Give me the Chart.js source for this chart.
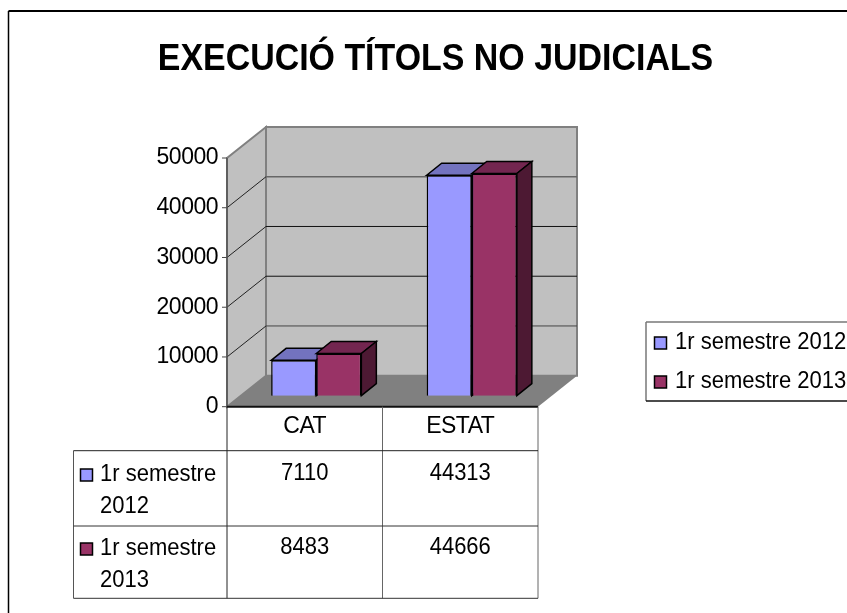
<!DOCTYPE html>
<html>
<head>
<meta charset="utf-8">
<title>Execució títols no judicials</title>
<script src="https://cdn.jsdelivr.net/npm/chart.js@4"></script>
<style>
  html,body{margin:0;padding:0;background:#fff;overflow:hidden}
  canvas{display:block}
</style>
</head>
<body>
<canvas id="chart" width="847" height="613"></canvas>
<script>
const chartTitle = "EXECUCIÓ TÍTOLS NO JUDICIALS";
const categories = ["CAT", "ESTAT"];
const series2012 = [7110, 44313];
const series2013 = [8483, 44666];
const seriesLabels = ["1r semestre 2012", "1r semestre 2013"];
const rowLabels = [["1r semestre", "2012"], ["1r semestre", "2013"]];
const seriesColors = ["#9999FF", "#993366"];
const topColors = ["#7373BF", "#732650"];
const sideColors = ["#4D4D80", "#4D1933"];

const FONT = '"Liberation Sans", Arial, sans-serif';
const wallDx = 39, wallDy = 31;   // depth of the 3D box
const barDx = 11.5, barDy = 11;   // where the bars stand on the floor
const barDepthX = 15, barDepthY = 12;
const textSquash = 0.917;         // the original text is taller than it is wide

function poly(ctx, pts, fill, stroke, lw){
  ctx.beginPath();
  pts.forEach((p,i)=> i ? ctx.lineTo(p[0],p[1]) : ctx.moveTo(p[0],p[1]));
  ctx.closePath();
  if (fill){ ctx.fillStyle = fill; ctx.fill(); }
  if (stroke){ ctx.strokeStyle = stroke; ctx.lineWidth = lw||1; ctx.stroke(); }
}
function line(ctx, x1, y1, x2, y2, color, lw){
  ctx.beginPath();
  ctx.moveTo(x1,y1);
  ctx.lineTo(x2,y2);
  ctx.strokeStyle = color;
  ctx.lineWidth = lw||1;
  ctx.stroke();
}
function swatch(ctx, x, y, color){
  ctx.fillStyle = color;
  ctx.fillRect(x,y,12,12);
  ctx.strokeStyle = "#000";
  ctx.lineWidth = 1.5;
  ctx.strokeRect(x,y,12,12);
}
function squashedText(ctx, text, x, y){
  ctx.save();
  ctx.translate(x,y);
  ctx.scale(textSquash,1);
  ctx.fillText(text,0,0);
  ctx.restore();
}

// ---- Frame, title, walls, floor ----
const backdrop = {
  id: "backdrop",
  beforeDraw(chart){
    // axis labels can't be squashed, tighten them a little instead
    chart.ctx.letterSpacing = "-0.5px";
  },
  beforeDatasetsDraw(chart){
    const {ctx, chartArea:a, scales:{y}} = chart;
    const L=a.left, R=a.right, T=a.top, B=a.bottom;
    ctx.save();
    ctx.letterSpacing = "0px";
    // outer frame
    line(ctx, 8.5, 613, 8.5, 11, "#000", 1.5);
    line(ctx, 8.5, 11, 847, 11, "#000", 2);
    // title
    ctx.fillStyle = "#000";
    ctx.font = "bold 37px "+FONT;
    ctx.textAlign = "center";
    ctx.textBaseline = "alphabetic";
    squashedText(ctx, chartTitle, 435.5, 70);
    // walls
    poly(ctx, [[L,B],[L,T],[L+wallDx,T-wallDy],[L+wallDx,B-wallDy]], "#C0C0C0", "#808080", 2);
    poly(ctx, [[L+wallDx,B-wallDy],[L+wallDx,T-wallDy],[R+wallDx,T-wallDy],[R+wallDx,B-wallDy]], "#C0C0C0", "#808080", 2);
    poly(ctx, [[L,B],[L+wallDx,B-wallDy],[R+wallDx,B-wallDy],[R,B]], "#808080");
    // gridlines
    y.ticks.forEach(t=>{
      const py = y.getPixelForValue(t.value);
      line(ctx, L-5, py, L, py, "#444");
      if (t.value>0 && t.value<y.max){
        line(ctx, L, py, L+wallDx, py-wallDy, "#222");
        const col = t.value===40000 ? "#666" : t.value===10000 ? "#444" : "#111";
        line(ctx, L+wallDx, py-wallDy, R+wallDx, py-wallDy, col, t.value===40000 ? 1.5 : 1);
      }
    });
    line(ctx, L, B, L, T, "#555", 1.5);
    line(ctx, L, B, R, B, "#111", 2);
    ctx.restore();
  },
  // chart.js paints the last dataset first, the blue bars must go under the maroon ones
  beforeDatasetDraw(){
    return false;
  },
  afterDatasetsDraw(chart){
    const ctx = chart.ctx;
    ctx.save();
    ctx.translate(barDx, -barDy);
    [0,1].forEach(i=>{
      const meta = chart.getDatasetMeta(i);
      meta.controller.draw();
      meta.data.forEach(bar=>{
        const x2 = bar.x + bar.width/2, x1 = bar.x - bar.width/2;
        const top = bar.y, bot = bar.base;
        poly(ctx, [[x1,top],[x1+barDepthX,top-barDepthY],[x2+barDepthX,top-barDepthY],[x2,top]], topColors[i], "#000", 1.5);
        poly(ctx, [[x2,top],[x2+barDepthX,top-barDepthY],[x2+barDepthX,bot-barDepthY],[x2,bot]], sideColors[i], "#000", 1.5);
      });
    });
    ctx.restore();
  }
};

// ---- Data table and legend ----
const tableAndLegend = {
  id: "tableAndLegend",
  afterDraw(chart){
    const {ctx, chartArea:a, scales:{x}} = chart;
    const L=a.left, R=a.right, B=a.bottom;
    const tableLeft=73.5, row1=450.7, row2=526, tableBottom=598.3;
    const colMid = x.getPixelForTick(0) + (x.getPixelForTick(1)-x.getPixelForTick(0))/2;
    ctx.save();
    ctx.letterSpacing = "0px";
    line(ctx, L, B, L, tableBottom, "#222");
    line(ctx, colMid, B, colMid, tableBottom, "#666");
    line(ctx, R, B, R, tableBottom, "#666");
    line(ctx, tableLeft, row1, tableLeft, tableBottom, "#555");
    line(ctx, tableLeft, row1, R, row1, "#222");
    line(ctx, tableLeft, row2, R, row2, "#333");
    line(ctx, tableLeft, tableBottom, R, tableBottom, "#333");

    ctx.font = "24px "+FONT;
    ctx.textBaseline = "middle";
    [series2012, series2013].forEach((vals,i)=>{
      const rowY = i===0 ? 473 : 547;
      swatch(ctx, 80.5, rowY-4, seriesColors[i]);
      ctx.fillStyle = "#000";
      ctx.textAlign = "left";
      squashedText(ctx, rowLabels[i][0], 100, rowY+1);
      squashedText(ctx, rowLabels[i][1], 100, rowY+33);
      ctx.textAlign = "center";
      vals.forEach((v,j)=> squashedText(ctx, String(v), x.getPixelForTick(j), rowY));
    });

    // legend, runs off the right edge like the original
    line(ctx, 646, 322, 847, 322, "#777", 1.5);
    line(ctx, 646, 322, 646, 401, "#777", 1.5);
    line(ctx, 646, 401, 847, 401, "#111", 1.5);
    seriesLabels.forEach((lab,i)=>{
      const ly = i===0 ? 342 : 381;
      swatch(ctx, 654.5, ly-5, seriesColors[i]);
      ctx.fillStyle = "#000";
      ctx.textAlign = "left";
      squashedText(ctx, lab, 675, ly);
    });
    ctx.restore();
  }
};

new Chart(document.getElementById("chart"), {
  type: "bar",
  data: {
    labels: categories,
    datasets: [
      { label: seriesLabels[0], data: series2012, backgroundColor: seriesColors[0], borderColor: "#000", borderWidth: 1.5 },
      { label: seriesLabels[1], data: series2013, backgroundColor: seriesColors[1], borderColor: "#000", borderWidth: 1.5 }
    ]
  },
  options: {
    responsive: false,
    animation: false,
    layout: { padding: { left: 0, right: 309, top: 158, bottom: 0 } },
    datasets: { bar: { categoryPercentage: 0.58, barPercentage: 1 } },
    plugins: { legend: { display: false }, title: { display: false }, tooltip: { enabled: false } },
    scales: {
      x: {
        grid: { display: false, drawTicks: false },
        border: { display: false },
        ticks: { color: "#000", font: { family: FONT, size: 23 }, padding: 6, maxRotation: 0 },
        afterFit(s){ s.height = 206.3; }
      },
      y: {
        min: 0, max: 50000,
        grid: { display: false, drawTicks: false },
        border: { display: false },
        ticks: { stepSize: 10000, color: "#000", font: { family: FONT, size: 23 }, padding: 9, callback: v=>String(v) },
        afterFit(s){ s.width = 227; }
      }
    }
  },
  plugins: [backdrop, tableAndLegend]
});
</script>
</body>
</html>
